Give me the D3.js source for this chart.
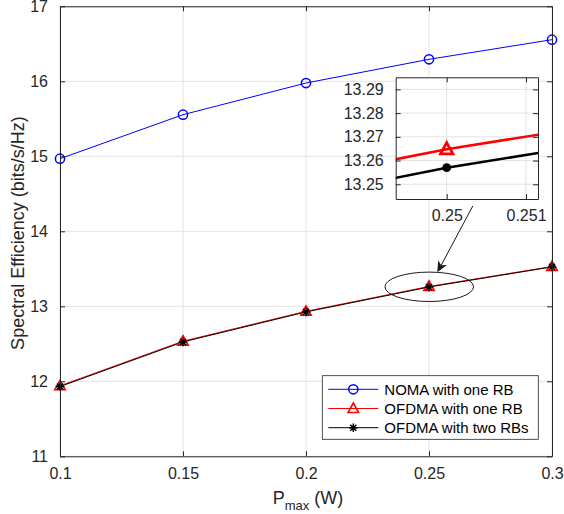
<!DOCTYPE html>
<html>
<head>
<meta charset="utf-8">
<script src="https://cdn.jsdelivr.net/npm/d3@7"></script>
<style>
  body { margin: 0; background: #fff; }
  svg { font-family: "Liberation Sans", Arial, Helvetica, sans-serif; }
  .tick text { fill: #262626; }
</style>
</head>
<body>
<main></main>
<script>
// データ
const pmax = [0.1, 0.15, 0.2, 0.25, 0.3];
const noma = [14.968, 15.555, 15.977, 16.293, 16.555];
const ofdmaOne = [11.94, 12.535, 12.933, 13.2648, 13.53];
const ofdmaTwo = [11.93, 12.525, 12.925, 13.257, 13.525];
const xTicks = [0.1, 0.15, 0.2, 0.25, 0.3];
const yTicks = [11, 12, 13, 14, 15, 16, 17];
const insetXTicks = [0.25, 0.251];
const insetYTicks = [13.25, 13.26, 13.27, 13.28, 13.29];
const legendLabels = ["NOMA with one RB", "OFDMA with one RB", "OFDMA with two RBs"];

const width = 564, height = 514;
const axisColor = "#262626", gridColor = "#e3e3e3";

const svg = d3.select("main").append("svg")
    .attr("width", width)
    .attr("height", height);

// メインの軸
const plot = { left: 60, right: 552, top: 6.3, bottom: 456.3 };
const x = d3.scaleLinear().domain([0.1, 0.3]).range([plot.left, plot.right]);
const y = d3.scaleLinear().domain([11, 17]).range([plot.bottom, plot.top]);

// グリッド
const grid = svg.append("g");
grid.selectAll(".gx").data(xTicks).enter().append("line")
    .attr("x1", d => x(d)).attr("x2", d => x(d))
    .attr("y1", plot.top).attr("y2", plot.bottom)
    .attr("stroke", gridColor);
grid.selectAll(".gy").data(yTicks).enter().append("line")
    .attr("y1", d => y(d)).attr("y2", d => y(d))
    .attr("x1", plot.left).attr("x2", plot.right)
    .attr("stroke", gridColor);

// 軸（内向き目盛り）
function drawAxes(g, xs, ys, xt, yt, box, fmtX, fmtY, fontSize) {
    const tl = 5;
    const ax = g.append("g").attr("transform", `translate(0,${box.bottom})`)
        .call(d3.axisBottom(xs).tickValues(xt).tickSizeInner(-tl).tickSizeOuter(0).tickPadding(tl + 6).tickFormat(fmtX));
    const ay = g.append("g").attr("transform", `translate(${box.left},0)`)
        .call(d3.axisLeft(ys).tickValues(yt).tickSizeInner(-tl).tickSizeOuter(0).tickPadding(tl + 7).tickFormat(fmtY));
    const at = g.append("g").attr("transform", `translate(0,${box.top})`)
        .call(d3.axisTop(xs).tickValues(xt).tickSizeInner(-tl).tickSizeOuter(0).tickFormat(""));
    const ar = g.append("g").attr("transform", `translate(${box.right},0)`)
        .call(d3.axisRight(ys).tickValues(yt).tickSizeInner(-tl).tickSizeOuter(0).tickFormat(""));
    [ax, ay, at, ar].forEach(a => {
        a.select(".domain").attr("stroke", axisColor);
        a.selectAll(".tick line").attr("stroke", axisColor);
        a.selectAll(".tick text").style("font-size", fontSize + "px");
    });
}

// 線とマーカー
const line = d3.line().x(d => x(d[0])).y(d => y(d[1]));
const series = [
    { vals: noma, color: "#0000ff", marker: "circle" },
    { vals: ofdmaOne, color: "#ff0000", marker: "triangle" },
    { vals: ofdmaTwo, color: "#000000", marker: "star" }
];

function asteriskPath(r) {
    const d = r * 0.7071;
    return `M${-r},0L${r},0M0,${-r}L0,${r}M${-d},${-d}L${d},${d}M${-d},${d}L${d},${-d}`;
}
function triPath(r) {
    return `M0,${-r}L${r * 0.95},${r * 0.72}L${-r * 0.95},${r * 0.72}Z`;
}

function drawMarker(g, m, color, cx, cy, big) {
    if (m === "circle") {
        g.append("circle").attr("cx", cx).attr("cy", cy).attr("r", 4.6)
            .attr("fill", "none").attr("stroke", color).attr("stroke-width", 1.5);
    } else if (m === "triangle") {
        g.append("path").attr("d", triPath(big ? 6.5 : 5.5))
            .attr("transform", `translate(${cx},${cy})`)
            .attr("fill", "none").attr("stroke", color).attr("stroke-width", big ? 2.8 : 1.6);
    } else if (m === "star") {
        g.append("path").attr("d", asteriskPath(4.3))
            .attr("transform", `translate(${cx},${cy})`)
            .attr("stroke", color).attr("stroke-width", 1.5);
    } else if (m === "dot") {
        g.append("circle").attr("cx", cx).attr("cy", cy).attr("r", 4.4)
            .attr("fill", color);
    }
}

const lines = svg.append("g");
series.forEach(s => {
    const pts = pmax.map((p, i) => [p, s.vals[i]]);
    lines.append("path").datum(pts)
        .attr("d", line)
        .attr("fill", "none")
        .attr("stroke", s.color)
        .attr("stroke-width", 1);
});
series.forEach(s => {
    pmax.forEach((p, i) => drawMarker(lines, s.marker, s.color, x(p), y(s.vals[i]), false));
});

drawAxes(svg.append("g"), x, y, xTicks, yTicks, plot, d3.format("~g"), d3.format("d"), 16);

// 軸ラベル
const xl = svg.append("text")
    .attr("x", 308).attr("y", 504)
    .attr("text-anchor", "middle")
    .attr("fill", axisColor)
    .style("font-size", "18px");
xl.append("tspan").text("P");
xl.append("tspan").attr("dy", 6).style("font-size", "13px").text("max");
xl.append("tspan").attr("dy", -6).text(" (W)");

svg.append("text")
    .attr("transform", "translate(24,233) rotate(-90)")
    .attr("text-anchor", "middle")
    .attr("fill", axisColor)
    .style("font-size", "18px")
    .text("Spectral Efficiency (bits/s/Hz)");

// 楕円と矢印
const ell = { cx: 0.2501, cy: 13.26, rx: 0.018, ry: 0.196 };
svg.append("ellipse")
    .attr("cx", x(ell.cx)).attr("cy", y(ell.cy))
    .attr("rx", x(ell.cx + ell.rx) - x(ell.cx))
    .attr("ry", y(ell.cy - ell.ry) - y(ell.cy))
    .attr("fill", "none").attr("stroke", "#1a1a1a").attr("stroke-width", 1);

const arrowFrom = [0.2678, 14.337], arrowTo = [0.2534, 13.453];
const ax0 = x(arrowFrom[0]), ay0 = y(arrowFrom[1]), ax1 = x(arrowTo[0]), ay1 = y(arrowTo[1]);
const ang = Math.atan2(ay1 - ay0, ax1 - ax0);
svg.append("line")
    .attr("x1", ax0).attr("y1", ay0).attr("x2", ax1 - 6 * Math.cos(ang)).attr("y2", ay1 - 6 * Math.sin(ang))
    .attr("stroke", "#1a1a1a").attr("stroke-width", 1);
svg.append("path")
    .attr("d", "M0,0L-11,-5L-8,0L-11,5Z")
    .attr("transform", `translate(${ax1},${ay1}) rotate(${ang * 180 / Math.PI})`)
    .attr("fill", "#1a1a1a");

// 凡例
const lg = svg.append("g").attr("transform", "translate(322.3,375.7)");
lg.append("rect").attr("width", 216).attr("height", 63.6)
    .attr("fill", "#fff").attr("stroke", axisColor).attr("stroke-width", 0.8);
series.forEach((s, i) => {
    const yy = 13.6 + i * 19.2;
    lg.append("line").attr("x1", 6).attr("x2", 56).attr("y1", yy).attr("y2", yy)
        .attr("stroke", s.color).attr("stroke-width", 1);
    drawMarker(lg, s.marker, s.color, 31, yy, false);
    lg.append("text").attr("x", 62).attr("y", yy + 5.3)
        .attr("fill", "#000").style("font-size", "15px")
        .text(legendLabels[i]);
});

// 拡大図（インセット）
const ib = { left: 395.7, right: 538, top: 77.3, bottom: 199 };
const xi = d3.scaleLinear().domain([0.249357, 0.251151]).range([ib.left, ib.right]);
const yi = d3.scaleLinear().domain([13.2438, 13.2951]).range([ib.bottom, ib.top]);
const inset = svg.append("g");
inset.append("rect").attr("x", ib.left).attr("y", ib.top)
    .attr("width", ib.right - ib.left).attr("height", ib.bottom - ib.top).attr("fill", "#fff");
inset.append("clipPath").attr("id", "iclip").append("rect")
    .attr("x", ib.left).attr("y", ib.top)
    .attr("width", ib.right - ib.left).attr("height", ib.bottom - ib.top);
inset.selectAll(".igx").data(insetXTicks).enter().append("line")
    .attr("x1", d => xi(d)).attr("x2", d => xi(d)).attr("y1", ib.top).attr("y2", ib.bottom)
    .attr("stroke", gridColor);
inset.selectAll(".igy").data(insetYTicks).enter().append("line")
    .attr("y1", d => yi(d)).attr("y2", d => yi(d)).attr("x1", ib.left).attr("x2", ib.right)
    .attr("stroke", gridColor);
const iline = d3.line().x(d => xi(d[0])).y(d => yi(d[1]));
const il = inset.append("g").attr("clip-path", "url(#iclip)");
[series[1], series[2]].forEach(s => {
    const pts = pmax.map((p, i) => [p, s.vals[i]]);
    il.append("path").datum(pts).attr("d", iline)
        .attr("fill", "none").attr("stroke", s.color).attr("stroke-width", 2.6);
});
drawMarker(il, "triangle", "#ff0000", xi(0.25), yi(ofdmaOne[3]), true);
drawMarker(il, "dot", "#000000", xi(0.25), yi(ofdmaTwo[3]), true);
drawAxes(inset.append("g"), xi, yi, insetXTicks, insetYTicks, ib, d3.format(".3~f"), d3.format(".2f"), 16);
</script>
</body>
</html>
